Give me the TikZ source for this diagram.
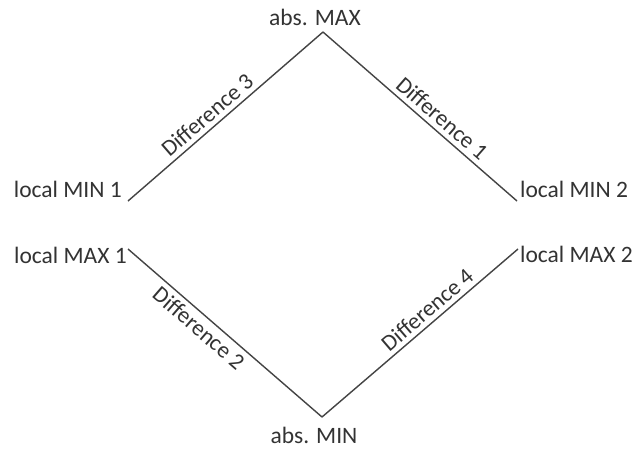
\documentclass[tikz,border=0pt]{standalone}
\usepackage{fontspec}
\setmainfont{Carlito}
\definecolor{ink}{HTML}{333333}
\definecolor{lineink}{HTML}{444444}
\begin{document}
\begin{tikzpicture}[x=1pt,y=-1pt,
  lbl/.style={inner sep=0pt,text=ink,font=\fontsize{23.5}{25}\selectfont},
  dlbl/.style={inner sep=4.5pt,text=ink,font=\fontsize{23}{25}\selectfont,sloped},
  edge/.style={draw=lineink,line width=1.4pt}]
\fill[white] (0,0) rectangle (637,448);
\useasboundingbox (0,0) rectangle (637,448);
% labels
\node[lbl,anchor=base] (amax) at (315,25) {abs. MAX};
\node[lbl,anchor=base] (amin) at (314,443) {abs. MIN};
\node[lbl,anchor=base east] (min1) at (122,197) {local MIN 1};
\node[lbl,anchor=base east] (max1) at (127,263) {local MAX 1};
\node[lbl,anchor=base west] (min2) at (520,197) {local MIN 2};
\node[lbl,anchor=base west] (max2) at (520,262) {local MAX 2};
% line end points
\coordinate (top) at (323,32);
\coordinate (bot) at (322,417);
\coordinate (l1) at (128,201);
\coordinate (r1) at (517,201);
\coordinate (l2) at (128,249);
\coordinate (r2) at (518,249);
% connectors
\draw[edge] (l1) -- node[dlbl,pos=0.45,above] (d3) {Difference 3} (top);
\draw[edge] (top) -- node[dlbl,pos=0.57,above] (d1) {Difference 1} (r1);
\draw[edge] (l2) -- node[dlbl,pos=0.41,below] (d2) {Difference 2} (bot);
\draw[edge] (bot) -- node[dlbl,pos=0.58,above] (d4) {Difference 4} (r2);
\end{tikzpicture}
\end{document}
